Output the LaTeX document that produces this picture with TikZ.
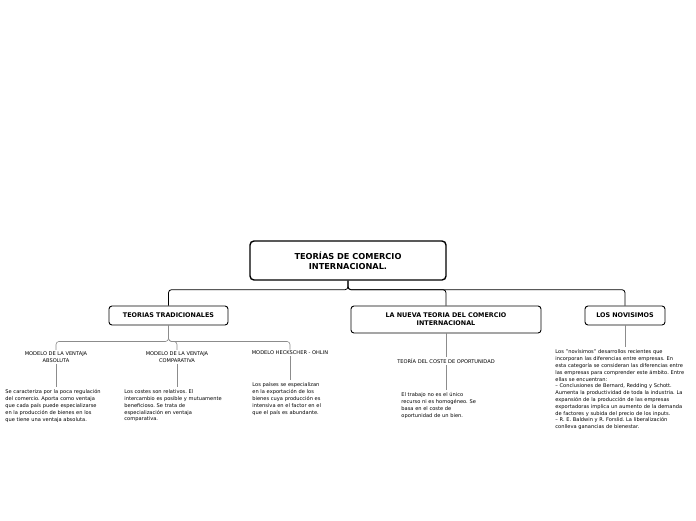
\documentclass[tikz,border=0pt]{standalone}
\usepackage{fontspec}
\setmainfont{DejaVu Sans}
\usepackage{tikz}
\usetikzlibrary{positioning, calc}
\frenchspacing

\begin{document}
\begin{tikzpicture}[x=1pt, y=-1pt, line width=0.8pt,
    rootbox/.style={draw, rounded corners=4pt, line width=1.4pt,
      minimum width=196pt, minimum height=39pt, align=center,
      font=\fontsize{8.2}{10}\selectfont\bfseries},
    topicbox/.style={draw, rounded corners=3pt, line width=0.9pt,
      minimum height=19pt, align=center, inner xsep=6pt,
      font=\fontsize{6.4}{8.2}\selectfont\bfseries},
    sublabel/.style={align=center, inner sep=1pt,
      font=\fontsize{5.1}{7.6}\selectfont},
    desc/.style={align=left, inner sep=0pt, anchor=north west,
      font=\fontsize{5.1}{6.8}\selectfont},
    mainline/.style={draw, rounded corners=3pt, line width=0.8pt},
    subline/.style={draw, black!45, rounded corners=3pt, line width=0.6pt}]
  \useasboundingbox[fill=white] (0,0) rectangle (696,520);
  % root and first level
  \node[rootbox] (root) at (348,260.5) {TEORÍAS DE COMERCIO\\INTERNACIONAL.};
  \node[topicbox, minimum width=119pt] (trad) at (168.5,315.5) {TEORIAS TRADICIONALES};
  \node[topicbox, minimum width=190pt, minimum height=27pt] (nueva) at (446,319.5)
    {LA NUEVA TEORIA DEL COMERCIO\\INTERNACIONAL};
  \node[topicbox, minimum width=80pt] (novis) at (625,315.5) {LOS NOVISIMOS};
  \foreach \t in {trad, nueva, novis}
    \draw[mainline] (root.south) -- ++(0,9) -| (\t.north);
  % teorias tradicionales
  \node[sublabel] (abs) at (56,357) {MODELO DE LA VENTAJA\\ABSOLUTA};
  \node[sublabel] (comp) at (177,357) {MODELO DE LA VENTAJA\\COMPARATIVA};
  \node[sublabel] (ho) at (290,353) {MODELO HECKSCHER - OHLIN};
  \foreach \t in {abs, comp, ho}
    \draw[subline] (trad.south) -- ++(0,16) -| (\t.north);
  \node[desc, text width=110pt] (absdesc) at (5,389.5)
    {Se caracteriza por la poca regulación\\del comercio. Aporta como ventaja\\que cada país puede especializarse\\en la producción de bienes en los\\que tiene una ventaja absoluta.};
  \node[desc, text width=110pt] (compdesc) at (124,389.5)
    {Los costes son relativos. El\\intercambio es posible y mutuamente\\beneficioso. Se trata de\\especialización en ventaja\\comparativa.};
  \node[desc, text width=80pt] (hodesc) at (252,382.5)
    {Los países se especializan\\en la exportación de los\\bienes cuya producción es\\intensiva en el factor en el\\que el país es abundante.};
  \draw[subline] (abs.south) -- ([yshift=3pt]absdesc.north -| abs.south);
  \draw[subline] (comp.south) -- ([yshift=3pt]compdesc.north -| comp.south);
  \draw[subline] (ho.south) -- ([yshift=3pt]hodesc.north -| ho.south);
  % nueva teoria
  \node[sublabel] (coste) at (446,361) {TEORÍA DEL COSTE DE OPORTUNIDAD};
  \draw[subline] (nueva.south) -- (coste.north);
  \node[desc, text width=90pt] (costedesc) at (401,392.5)
    {El trabajo no es el único\\recurso ni es homogéneo. Se\\basa en el coste de\\oportunidad de un bien.};
  \draw[subline] (coste.south) -- ([yshift=3pt]costedesc.north -| coste.south);
  % novisimos
  \node[desc, text width=140pt] (novisdesc) at (555,349.5)
    {Los "novísimos" desarrollos recientes que\\incorporan las diferencias entre empresas. En\\esta categoría se consideran las diferencias entre\\las empresas para comprender este ámbito. Entre\\ellas se encuentran:\\
     – Conclusiones de Bernard, Redding y Schott.\\Aumenta la productividad de toda la industria. La\\expansión de la producción de las empresas\\exportadoras implica un aumento de la demanda\\de factores y subida del precio de los inputs.\\
     – R. E. Baldwin y R. Forslid. La liberalización\\conlleva ganancias de bienestar.};
  \draw[subline] (novis.south) -- ([yshift=3pt]novisdesc.north -| novis.south);
\end{tikzpicture}
\end{document}
